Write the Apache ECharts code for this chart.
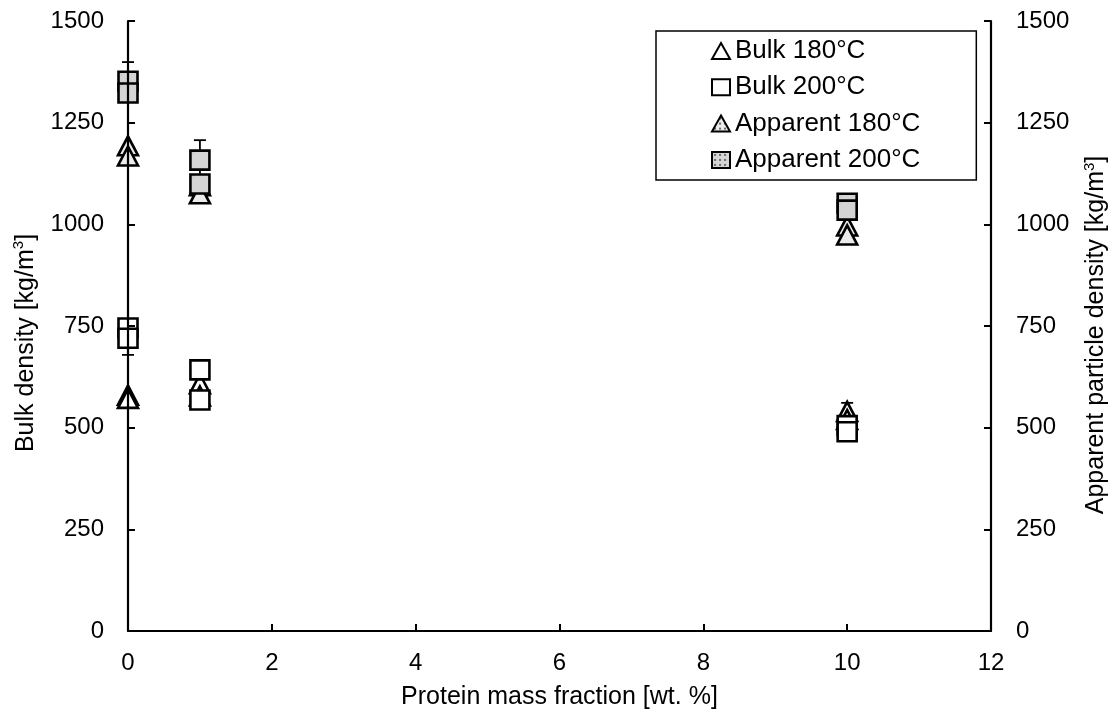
<!DOCTYPE html>
<html>
<head>
<meta charset="utf-8">
<script src="https://cdn.jsdelivr.net/npm/echarts@6/dist/echarts.min.js"></script>
<style>
  html, body { margin: 0; padding: 0; background: #fff; }
  #chart { width: 1118px; height: 716px; }
</style>
</head>
<body>
<div id="chart"></div>
<script>
// Protein mass fraction of each measured sample (two replicates per level)
const proteinFraction = [0, 0, 1, 1, 10, 10];
// Densities in kg/m3
const bulk180 = [580, 572, 608, 578, 540, 520];
const bulk200 = [745, 720, 642, 568, 505, 490];
const apparent180 = [1193, 1168, 1095, 1075, 996, 974];
const apparent200 = [1352, 1323, 1158, 1099, 1052, 1035];
// Standard deviations (0 = no bar drawn)
const bulk180Err = [0, 0, 0, 0, 21, 0];
const bulk200Err = [0, 41, 0, 0, 0, 0];
const apparent200Err = [47, 0, 49, 0, 0, 0];

const xTicks = { min: 0, max: 12, interval: 2 };
const yTicks = { min: 0, max: 1500, interval: 250 };

const FONT = 'Liberation Sans, Arial, sans-serif';
const INK = '#000';
const FS = 24;      // tick labels
const FS_NAME = 25; // axis titles
const FS_LEG = 26;  // legend entries

function dotPattern(bg, dot) {
  const c = document.createElement('canvas');
  c.width = 5; c.height = 5;
  const g = c.getContext('2d');
  g.fillStyle = bg; g.fillRect(0, 0, 5, 5);
  g.fillStyle = dot; g.fillRect(2, 2, 2, 2);
  return { image: c, repeat: 'repeat' };
}

const pairs = (ys) => ys.map((y, i) => [proteinFraction[i], y]);
const errPairs = (ys, es) => ys.map((y, i) => [proteinFraction[i], y - es[i], y + es[i]]).filter((d, i) => es[i] > 0);

function errorSeries(ys, es, axis) {
  return {
    type: 'custom',
    yAxisIndex: axis,
    z: 1,
    silent: true,
    data: errPairs(ys, es),
    renderItem: function (params, api) {
      const lo = api.coord([api.value(0), api.value(1)]);
      const hi = api.coord([api.value(0), api.value(2)]);
      const w = 6;
      const st = { stroke: INK, lineWidth: 1.8 };
      return {
        type: 'group',
        children: [
          { type: 'line', shape: { x1: lo[0], y1: lo[1], x2: hi[0], y2: hi[1] }, style: st },
          { type: 'line', shape: { x1: lo[0] - w, y1: lo[1], x2: lo[0] + w, y2: lo[1] }, style: st },
          { type: 'line', shape: { x1: hi[0] - w, y1: hi[1], x2: hi[0] + w, y2: hi[1] }, style: st }
        ]
      };
    }
  };
}

const chart = echarts.init(document.getElementById('chart'), null, { renderer: 'canvas' });

const axisName = (pad) => ({
  fontFamily: FONT, fontSize: FS_NAME, color: INK, lineHeight: 28, padding: pad,
  rich: { sup: { fontFamily: FONT, fontSize: 15, color: INK, verticalAlign: 'top', lineHeight: 18 } }
});
const tickLabel = (margin) => ({
  fontFamily: FONT, fontSize: FS, color: INK, margin: margin,
  formatter: (v) => String(v)
});

const yCommon = {
  type: 'value',
  min: yTicks.min, max: yTicks.max, interval: yTicks.interval,
  nameLocation: 'middle',
  nameRotate: 90,
  axisLine: { show: true, lineStyle: { color: INK, width: 2.2 } },
  axisTick: { show: true, inside: true, length: 7, lineStyle: { color: INK, width: 2 } },
  splitLine: { show: false },
  z: 5
};

const pointStyle = (fill) => ({ color: fill, borderColor: INK, borderWidth: 2.6, opacity: 1 });

chart.setOption({
  animation: false,
  backgroundColor: '#fff',
  textStyle: { fontFamily: FONT },
  grid: { left: 128, right: 126, top: 21, bottom: 85 },
  xAxis: {
    type: 'value',
    min: xTicks.min, max: xTicks.max, interval: xTicks.interval,
    name: 'Protein mass fraction [wt. %]',
    nameLocation: 'middle',
    nameGap: 54,
    nameTextStyle: { fontFamily: FONT, fontSize: FS_NAME, color: INK },
    axisLine: { onZero: false, lineStyle: { color: INK, width: 2.2 } },
    axisTick: { show: true, inside: true, length: 7, lineStyle: { color: INK, width: 2 } },
    axisLabel: tickLabel(20),
    splitLine: { show: false },
    z: 5
  },
  yAxis: [
    Object.assign({}, yCommon, {
      position: 'left',
      name: 'Bulk density [kg/m{sup|3}]',
      nameGap: 81,
      nameTextStyle: axisName([0, 34, 0, 0]),
      axisLabel: tickLabel(24)
    }),
    Object.assign({}, yCommon, {
      position: 'right',
      name: 'Apparent particle density [kg/m{sup|3}]',
      nameGap: 91,
      nameTextStyle: axisName([0, 18, 0, 0]),
      axisLabel: tickLabel(25)
    })
  ],
  legend: {
    orient: 'vertical',
    left: 656,
    top: 31,
    padding: [7, 56, 7, 55],
    itemGap: 10.3,
    itemWidth: 18,
    itemHeight: 16,
    backgroundColor: '#fff',
    borderColor: INK,
    borderWidth: 1.5,
    borderRadius: 0,
    textStyle: { fontFamily: FONT, fontSize: FS_LEG, color: INK, lineHeight: 26 },
    itemStyle: { borderWidth: 2 },
    data: [
      { name: 'Bulk 180°C', icon: 'triangle' },
      { name: 'Bulk 200°C', icon: 'rect' },
      { name: 'Apparent 180°C', icon: 'triangle' },
      { name: 'Apparent 200°C', icon: 'rect' }
    ]
  },
  series: [
    errorSeries(bulk180, bulk180Err, 0),
    errorSeries(bulk200, bulk200Err, 0),
    errorSeries(apparent200, apparent200Err, 1),
    {
      name: 'Bulk 180°C', type: 'scatter', yAxisIndex: 0, z: 2,
      symbol: 'triangle', symbolSize: [20, 19],
      itemStyle: pointStyle('#fff'),
      data: pairs(bulk180)
    },
    {
      name: 'Bulk 200°C', type: 'scatter', yAxisIndex: 0, z: 2,
      symbol: 'rect', symbolSize: [19, 19],
      itemStyle: pointStyle('#fff'),
      data: pairs(bulk200)
    },
    {
      name: 'Apparent 180°C', type: 'scatter', yAxisIndex: 1, z: 2,
      symbol: 'triangle', symbolSize: [20, 19],
      itemStyle: pointStyle(dotPattern('#ececec', '#6a6a6a')),
      data: pairs(apparent180)
    },
    {
      name: 'Apparent 200°C', type: 'scatter', yAxisIndex: 1, z: 2,
      symbol: 'rect', symbolSize: [19, 19],
      itemStyle: pointStyle(dotPattern('#d4d4d4', '#6a6a6a')),
      data: pairs(apparent200)
    }
  ]
});
</script>
</body>
</html>
